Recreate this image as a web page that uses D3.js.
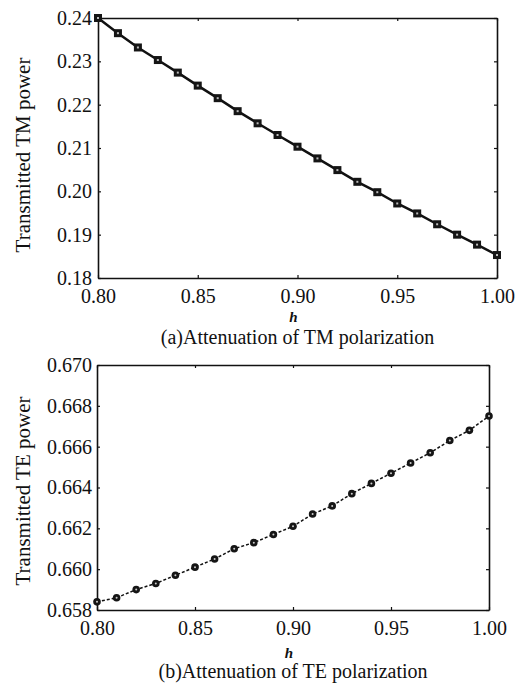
<!DOCTYPE html>
<html>
<head>
<meta charset="utf-8">
<script src="https://cdn.jsdelivr.net/npm/d3@7/dist/d3.min.js"></script>
<style>
  body { margin: 0; background: #fff; }
  svg text { font-family: "Liberation Serif", "Times New Roman", serif; fill: #111; }
</style>
</head>
<body>
<div id="chart"></div>
<script>
// values
var hValues = [0.80, 0.81, 0.82, 0.83, 0.84, 0.85, 0.86, 0.87, 0.88, 0.89, 0.90,
               0.91, 0.92, 0.93, 0.94, 0.95, 0.96, 0.97, 0.98, 0.99, 1.00];
var tmPower = [0.2400, 0.2365, 0.2332, 0.2303, 0.2274, 0.2244, 0.2215, 0.2185, 0.2157, 0.2130, 0.2103,
               0.2076, 0.2049, 0.2022, 0.1998, 0.1972, 0.1949, 0.1924, 0.1900, 0.1877, 0.1853];
var tePower = [0.6584, 0.6586, 0.6590, 0.6593, 0.6597, 0.6601, 0.6605, 0.6610, 0.6613, 0.6617, 0.6621,
               0.6627, 0.6631, 0.6637, 0.6642, 0.6647, 0.6652, 0.6657, 0.6663, 0.6668, 0.6675];
var hTicks = [0.80, 0.85, 0.90, 0.95, 1.00];
var tmTicks = [0.18, 0.19, 0.20, 0.21, 0.22, 0.23, 0.24];
var teTicks = [0.658, 0.660, 0.662, 0.664, 0.666, 0.668, 0.670];
var xLabel = "h";
var tmTitle = "Transmitted TM power";
var teTitle = "Transmitted TE power";
var tmCaption = "(a)Attenuation of TM polarization";
var teCaption = "(b)Attenuation of TE polarization";

var serif = "'Liberation Serif', 'Times New Roman', serif";
var svg = d3.select("#chart").append("svg").attr("width", 516).attr("height", 683);

/**
 * draw one panel of the figure
 */
var drawPanel = function(p){
    var x = d3.scaleLinear().domain([0.80, 1.00]).range([p.left, p.right]);
    var y = d3.scaleLinear().domain(p.yDomain).range([p.bottom, p.top]);
    var g = svg.append("g");

    g.append("g").attr("transform", "translate(0," + p.bottom + ")")
        .call(d3.axisBottom(x).tickValues(hTicks).tickSizeInner(-3).tickSizeOuter(0)
            .tickPadding(p.xPad).tickFormat(d3.format(".2f")));
    g.append("g").attr("transform", "translate(" + p.left + ",0)")
        .call(d3.axisLeft(y).tickValues(p.yTicks).tickSizeInner(-3).tickSizeOuter(0)
            .tickPadding(p.yPad).tickFormat(d3.format(p.yFormat)));
    g.append("g").attr("transform", "translate(0," + p.top + ")")
        .call(d3.axisTop(x).tickValues(hTicks).tickSizeInner(-3).tickSizeOuter(0).tickFormat(""));
    g.append("g").attr("transform", "translate(" + p.right + ",0)")
        .call(d3.axisRight(y).tickValues(p.yTicks).tickSizeInner(-3).tickSizeOuter(0).tickFormat(""));

    g.selectAll("g").attr("font-family", serif).attr("font-size", 20);
    g.selectAll(".domain").attr("stroke", "#111").attr("stroke-width", 1.6);
    g.selectAll(".tick line").attr("stroke", "#111").attr("stroke-width", 1.2);
    g.selectAll(".tick text").attr("font-family", serif).style("font-family", serif)
        .style("font-size", "20px").attr("fill", "#111");

    var pts = hValues.map(function(h, i){ return {h: h, v: p.values[i]}; });
    var line = d3.line().x(function(d){ return x(d.h); }).y(function(d){ return y(d.v); });

    g.append("path").datum(pts).attr("d", line).attr("fill", "none")
        .attr("stroke", "#111").attr("stroke-width", p.lineWidth)
        .attr("stroke-dasharray", p.dash);

    if (p.marker === "square") {
        g.selectAll(".mk").data(pts).enter().append("rect")
            .attr("x", function(d){ return x(d.h) - 4; })
            .attr("y", function(d){ return y(d.v) - 4; })
            .attr("width", 8).attr("height", 8).attr("fill", "#151515");
        g.selectAll(".mc").data(pts).enter().append("rect")
            .attr("x", function(d){ return x(d.h) - 1; })
            .attr("y", function(d){ return y(d.v) - 1; })
            .attr("width", 2).attr("height", 2).attr("fill", "#bbb");
    } else {
        g.selectAll(".mk").data(pts).enter().append("circle")
            .attr("cx", function(d){ return x(d.h); })
            .attr("cy", function(d){ return y(d.v); })
            .attr("r", 3.8).attr("fill", "#151515");
        g.selectAll(".mc").data(pts).enter().append("circle")
            .attr("cx", function(d){ return x(d.h); })
            .attr("cy", function(d){ return y(d.v); })
            .attr("r", 1).attr("fill", "#ccc");
    }

    g.append("text").attr("transform", "translate(30," + p.titleY + ") rotate(-90)")
        .attr("text-anchor", "middle").style("font-size", "21px").text(p.title);

    var cx = (p.left + p.right) / 2;
    g.append("text").attr("x", cx - 4).attr("y", p.hY).attr("text-anchor", "middle")
        .style("font-size", "15px").style("font-style", "italic").style("font-weight", "bold")
        .text(xLabel);
    g.append("text").attr("x", cx).attr("y", p.captionY).attr("text-anchor", "middle")
        .style("font-size", "20px").text(p.caption);
};

drawPanel({
    left: 98, right: 497, top: 18, bottom: 278,
    yDomain: [0.18, 0.24], yTicks: tmTicks, yFormat: ".2f",
    xPad: 11, yPad: 6,
    values: tmPower, marker: "square", lineWidth: 2.5, dash: null,
    title: tmTitle, titleY: 155, hY: 322, captionY: 344, caption: tmCaption
});

drawPanel({
    left: 97, right: 489, top: 365, bottom: 610,
    yDomain: [0.658, 0.670], yTicks: teTicks, yFormat: ".3f",
    xPad: 11, yPad: 5,
    values: tePower, marker: "circle", lineWidth: 1.5, dash: "3,2",
    title: teTitle, titleY: 491, hY: 658, captionY: 678, caption: teCaption
});
</script>
</body>
</html>
